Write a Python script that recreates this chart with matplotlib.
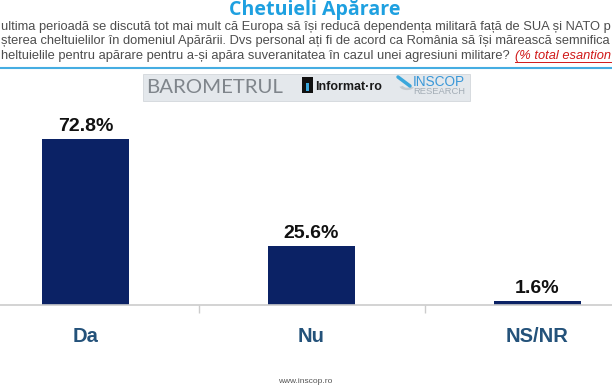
import matplotlib
matplotlib.use("Agg")
import matplotlib.pyplot as plt
from matplotlib.patches import Rectangle, Wedge

categories = ["Da", "Nu", "NS/NR"]
values = [72.8, 25.6, 1.6]
value_labels = ["72.8%", "25.6%", "1.6%"]

title = "Chetuieli Apărare"
# visible portions of the (cropped) question text
subtitle_lines = [
    "ultima perioadă se discută tot mai mult că Europa să își reducă dependența militară față de SUA și NATO p",
    "șterea cheltuielilor în domeniul Apărării. Dvs personal ați fi de acord ca România să își mărească semnifica",
    "heltuielile pentru apărare pentru a-și apăra suveranitatea în cazul unei agresiuni militare? ",
]
subtitle_red = "(% total esantion"
footer = "www.inscop.ro"

plt.rcParams['font.family'] = ['Liberation Sans', 'DejaVu Sans']

W, H = 612, 392
fig = plt.figure(figsize=(W / 100, H / 100), dpi=100)
renderer = fig.canvas.get_renderer()


def fx(px):
    return px / W


def fy(py):
    return 1 - py / H


def fit_text(s, x0, x1, y, size, **kw):
    t = fig.text(fx(x0), fy(y), s, ha="left", va="center", fontsize=size, **kw)
    w = t.get_window_extent(renderer=renderer).width
    t.set_fontsize(size * (x1 - x0) / w)
    return t


# axes: left 0, right 612, baseline y=304.5, top y=100
base = 304.5
ax = fig.add_axes([0, fy(base), 1, (base - 100) / H])
spacing = 226.0
x0 = 85.5
ax.set_xlim(-x0 / spacing, (W - x0) / spacing)
ax.set_ylim(0, (base - 100) / 2.28)
xs = list(range(len(categories)))
ax.bar(xs, values, width=0.385, color="#0b2265")
for x, v, lab in zip(xs, values, value_labels):
    ax.annotate(lab, (x, v), xytext=(0, 8), textcoords="offset pixels",
                ha="center", va="baseline", fontsize=14, fontweight="bold",
                color="#111111")
for s in ["top", "left", "right"]:
    ax.spines[s].set_visible(False)
ax.spines["bottom"].set_color("#cccccc")
ax.spines["bottom"].set_linewidth(1.2)
ax.set_yticks([])
ax.set_xticks([0.5, 1.5])
ax.set_xticklabels([])
ax.tick_params(axis="x", length=5.4, color="#cccccc", width=1)
for x, c in zip(xs, categories):
    fig.text(fx(x0 + x * spacing), fy(336), c, ha="center", va="center",
             fontsize=14.5, fontweight="bold", color="#24527a")

# title
fit_text(title, 229, 402, 10, 14, fontweight="bold", color="#1ea0e0",
         family=["Open Sans", "DejaVu Sans"])

# subtitle
sub_y = [26.7, 41, 55.5]
for i, (line, yy) in enumerate(zip(subtitle_lines, sub_y)):
    if i < 2:
        fit_text(line, 1, 611, yy, 9.3, color="#4d4d4d")
    else:
        t1 = fig.text(fx(1), fy(yy), line, ha="left", va="center", fontsize=9.3,
                      color="#4d4d4d")
        w1 = t1.get_window_extent(renderer=renderer).width
        t2 = fig.text(fx(1 + w1), fy(yy), subtitle_red, ha="left", va="center",
                      fontsize=9.3, color="#d01818", style="italic")
        w2 = t2.get_window_extent(renderer=renderer).width
        k = 610.0 / (w1 + w2)
        t1.set_fontsize(9.3 * k)
        t2.set_fontsize(9.3 * k)
        t2.set_x(fx(1 + w1 * k))
        fig.add_artist(plt.Line2D([fx(1 + w1 * k), fx(611)], [fy(yy + 6.5), fy(yy + 6.5)],
                                  color="#d01818", lw=0.7, transform=fig.transFigure))

# blue rule
fig.add_artist(plt.Line2D([0, 1], [fy(68), fy(68)], color="#45ade2", lw=1.5,
                          transform=fig.transFigure))

# banner
fig.add_artist(Rectangle((fx(143), fy(101)), (470 - 143) / W, (101 - 74) / H,
                         transform=fig.transFigure, facecolor="#e4e8ec",
                         edgecolor="#d3d7db", lw=0.6))
fit_text("BAROMETRUL", 146, 283, 87.5, 15, color="#7f858b",
         family=["Lato", "DejaVu Sans"])
fig.add_artist(Rectangle((fx(302), fy(93)), 11 / W, 16 / H, transform=fig.transFigure,
                         facecolor="#111111", edgecolor="none"))
fig.add_artist(Rectangle((fx(306), fy(91)), 2.5 / W, 8 / H, transform=fig.transFigure,
                         facecolor="#3aa7dc", edgecolor="none"))
fit_text("Informat·ro", 315, 382, 86.5, 11, fontweight="bold", color="#1a1a1a",
         family=["Liberation Sans Narrow", "Liberation Sans"])
fit_text("INSCOP", 413, 465, 81.5, 10, color="#3a98d8")
fit_text("RESEARCH", 413, 465, 91.5, 6, color="#a3adb6")
fig.add_artist(Wedge((fx(407), fy(85)), 0.013, 200, 330, width=0.006,
                     transform=fig.transFigure, facecolor="#c4cad0",
                     edgecolor="none"))
fig.add_artist(plt.Line2D([fx(398), fx(410)], [fy(77), fy(86)], color="#3aa7dc",
                          lw=2.5, solid_capstyle="round", transform=fig.transFigure))

fit_text(footer, 278, 333, 381.5, 6, color="#555555")

fig.savefig("out.png", dpi=100)
